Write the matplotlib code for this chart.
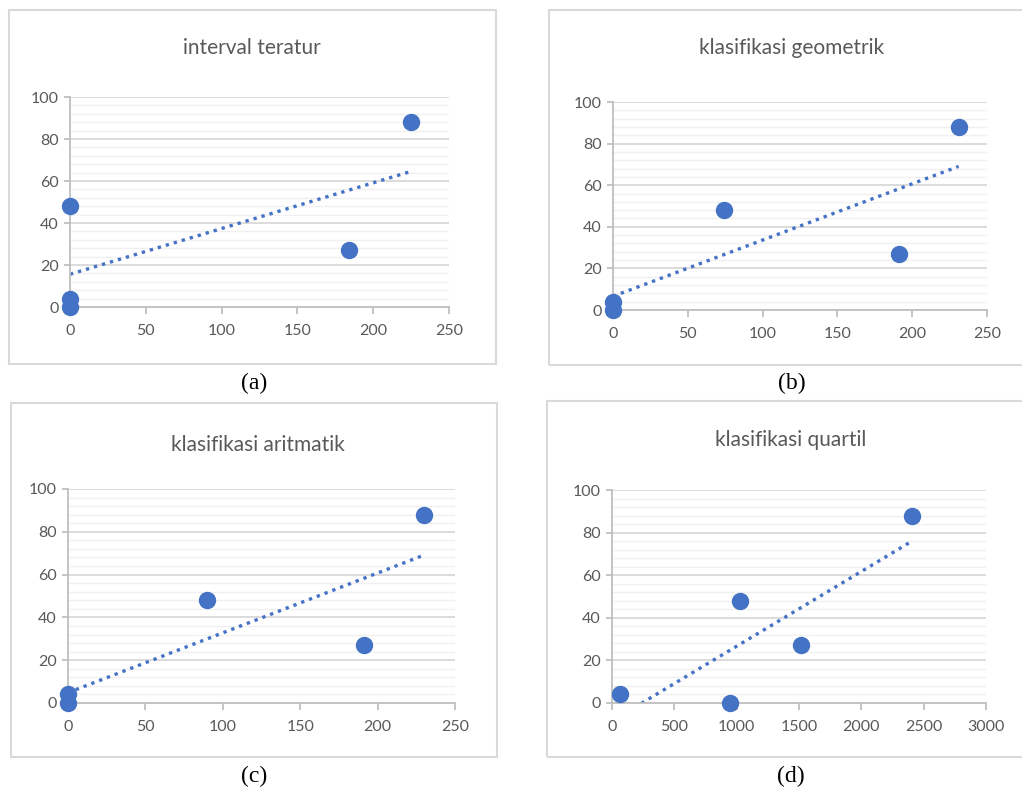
import numpy as np
import matplotlib.pyplot as plt
from matplotlib.patches import Rectangle
from matplotlib.ticker import MultipleLocator

# data
y_vals = [0, 4, 48, 27, 88]
x_interval = [0, 0, 0, 184, 225]
x_geometrik = [0, 0, 74, 191, 231]
x_aritmatik = [0, 0, 90, 191, 230]
x_quartil = [946, 64, 1026, 1516, 2408]
y_quartil = [0, 4, 48, 27, 88]

titles = ["interval teratur", "klasifikasi geometrik", "klasifikasi aritmatik", "klasifikasi quartil"]
sub_labels = ["(a)", "(b)", "(c)", "(d)"]

W, H = 1022, 790
BLUE = "#4472C4"
TXT = "#595959"


def fx(px):
    return px / W


def fy(py):
    return 1 - py / H


def panel(fig, rect_px, box_px, title_xy, label_xy, title, label, xs, ys, xmax, xstep):
    l, t, r, b = rect_px
    ax = fig.add_axes([fx(l), fy(b), fx(r - l), (b - t) / H])

    # chart frame
    bl, bt, br, bb = box_px
    fig.patches.append(Rectangle((fx(bl), fy(bb)), fx(br - bl), (bb - bt) / H,
                                 transform=fig.transFigure, fill=False,
                                 edgecolor="#D9D9D9", lw=1.5, zorder=0))

    ax.set_xlim(0, xmax)
    ax.set_ylim(0, 100)
    ax.xaxis.set_major_locator(MultipleLocator(xstep))
    ax.yaxis.set_major_locator(MultipleLocator(20))
    ax.yaxis.set_minor_locator(MultipleLocator(4))
    ax.grid(True, axis="y", which="major", color="#D9D9D9", lw=1.3, zorder=0)
    ax.grid(True, axis="y", which="minor", color="#F0F0F0", lw=1.0, zorder=0)
    ax.set_axisbelow(True)

    for s in ["top", "right"]:
        ax.spines[s].set_visible(False)
    for s in ["left", "bottom"]:
        ax.spines[s].set_color("#BFBFBF")
        ax.spines[s].set_linewidth(1.3)

    ax.tick_params(axis="y", which="major", length=4, width=1.3, color="#BFBFBF",
                   labelsize=11.5, labelcolor=TXT, pad=4)
    ax.tick_params(axis="y", which="minor", length=0)
    ax.tick_params(axis="x", which="major", length=5, width=1.3, color="#BFBFBF",
                   labelsize=11.5, labelcolor=TXT, pad=7)

    # linear trendline
    k, c = np.polyfit(xs, ys, 1)
    xl = np.array([min(xs), max(xs)])
    ax.plot(xl, k * xl + c, color=BLUE, lw=2.4, dashes=(1, 1.5), zorder=2)

    ax.plot(xs, ys, "o", color=BLUE, ms=11.5, mec=BLUE, clip_on=False, zorder=3)

    fig.text(fx(title_xy[0]), fy(title_xy[1]), title, ha="center", va="center",
             fontsize=15, color=TXT, family="Lato")
    fig.text(fx(label_xy[0]), fy(label_xy[1]), label, ha="center", va="center",
             fontsize=17, color="black", family="Liberation Serif")
    return ax


plt.rcParams["font.family"] = ["Lato", "DejaVu Sans"]
fig = plt.figure(figsize=(W / 100, H / 100), dpi=100)

panel(fig, (70, 97, 449, 307), (9, 10, 496, 364), (252, 48), (254, 383),
      titles[0], sub_labels[0], x_interval, y_vals, 250, 50)
panel(fig, (613, 102, 987, 310), (549, 10, 1030, 365), (792, 48), (792, 383),
      titles[1], sub_labels[1], x_geometrik, y_vals, 250, 50)
panel(fig, (68, 489, 455, 703), (11, 403, 497, 757), (258, 445), (254, 776),
      titles[2], sub_labels[2], x_aritmatik, y_vals, 250, 50)
panel(fig, (612, 490, 986, 703), (547, 401, 1030, 757), (791, 440), (791, 776),
      titles[3], sub_labels[3], x_quartil, y_quartil, 3000, 500)

fig.savefig("out.png", dpi=100)
